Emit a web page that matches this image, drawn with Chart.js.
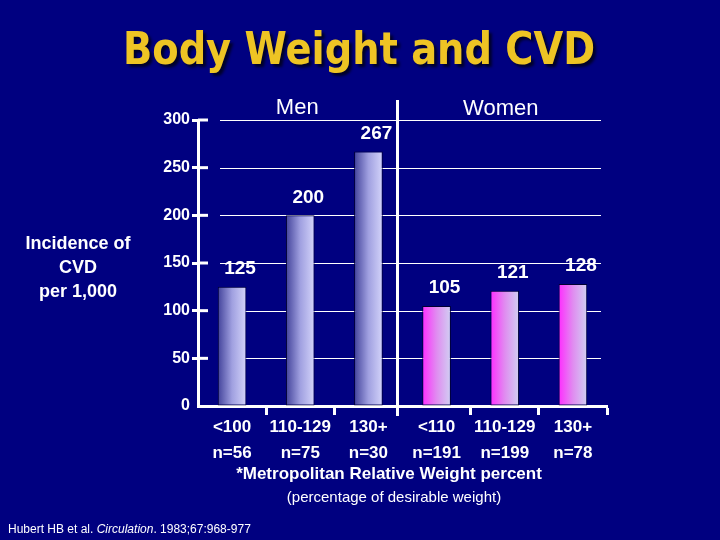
<!DOCTYPE html>
<html>
<head>
<meta charset="utf-8">
<title>Body Weight and CVD</title>
<script src="https://cdn.jsdelivr.net/npm/chart.js@4.4.1/dist/chart.umd.min.js"></script>
<style>
    body { margin: 0; background: #000080; }
    #wrap { width: 720px; height: 540px; }
</style>
</head>
<body>
<div id="wrap"><canvas id="chart" width="720" height="540"></canvas></div>
<script>
// Data
const weightGroups = ['<100', '110-129', '130+', '<110', '110-129', '130+'];
const groupSizes = ['n=56', 'n=75', 'n=30', 'n=191', 'n=199', 'n=78'];
const sexes = ['Men', 'Men', 'Men', 'Women', 'Women', 'Women'];
const incidence = [125, 200, 267, 105, 121, 128];
const yTicks = [0, 50, 100, 150, 200, 250, 300];

const slideTitle = 'Body Weight and CVD';
const yTitleLines = ['Incidence of', 'CVD', 'per 1,000'];
const xTitle = '*Metropolitan Relative Weight percent';
const xSubtitle = '(percentage of desirable weight)';
const citation = ['Hubert HB et al. ', 'Circulation', '. 1983;67:968-977'];

const BAR_PCT = 0.42;
const FONT = '"Liberation Sans", Arial, sans-serif';

Chart.defaults.font.family = FONT;
Chart.defaults.color = '#ffffff';

// index of the first women's group, where the divider sits
const splitIndex = sexes.indexOf('Women');

/**
 * Horizontal gradient per bar: navy->lavender for men, magenta->lavender for women
 */
function barFill(context) {
    const chart = context.chart;
    const x = chart.scales.x;
    if (!chart.chartArea || !x) return '#9090d0';
    const i = context.dataIndex;
    const half = x.width / weightGroups.length * BAR_PCT / 2;
    const cx = x.getPixelForValue(i);
    const g = chart.ctx.createLinearGradient(cx - half, 0, cx + half, 0);
    if (sexes[i] === 'Men') {
        g.addColorStop(0, '#42429a');
        g.addColorStop(0.5, '#a0a0e0');
        g.addColorStop(1, '#d4d4fa');
    } else {
        g.addColorStop(0, '#ff2cff');
        g.addColorStop(0.5, '#e08cf0');
        g.addColorStop(1, '#d0d0f2');
    }
    return g;
}

const slideDecor = {
    id: 'slideDecor',
    beforeDatasetsDraw(chart) {
        const { ctx, chartArea: a, scales: { x, y } } = chart;
        ctx.save();
        ctx.strokeStyle = '#ffffff';

        // thin grid lines, starting a bit right of the axis
        ctx.lineWidth = 1;
        yTicks.forEach(v => {
            if (v === 0) return;
            const py = Math.round(y.getPixelForValue(v)) + 0.5;
            ctx.beginPath();
            ctx.moveTo(a.left + 22, py);
            ctx.lineTo(a.right - 6, py);
            ctx.stroke();
        });

        // tick stubs on the inner side of the axis
        ctx.lineWidth = 3;
        yTicks.forEach(v => {
            if (v === 0) return;
            const py = y.getPixelForValue(v);
            ctx.beginPath();
            ctx.moveTo(a.left, py);
            ctx.lineTo(a.left + 10, py);
            ctx.stroke();
        });

        // divider between men and women
        const dx = (x.getPixelForValue(splitIndex - 1) + x.getPixelForValue(splitIndex)) / 2 - 5;
        ctx.beginPath();
        ctx.moveTo(dx, a.top - 20);
        ctx.lineTo(dx, a.bottom + 10);
        ctx.stroke();
        ctx.restore();
    },
    afterDatasetsDraw(chart) {
        const ctx = chart.ctx;
        const meta = chart.getDatasetMeta(0);
        ctx.save();
        ctx.fillStyle = '#ffffff';
        ctx.font = 'bold 19px ' + FONT;
        ctx.textAlign = 'center';
        ctx.textBaseline = 'middle';
        meta.data.forEach((bar, i) => {
            ctx.fillText(String(incidence[i]), bar.x + 8, bar.y - 18);
        });
        ctx.restore();
    },
    afterDraw(chart) {
        const { ctx, scales: { x } } = chart;
        ctx.save();

        // slide title
        ctx.font = 'bold 45px "DejaVu Sans", sans-serif';
        ctx.textAlign = 'center';
        ctx.textBaseline = 'alphabetic';
        ctx.shadowColor = 'rgba(0, 0, 0, 0.7)';
        ctx.shadowOffsetX = 3;
        ctx.shadowOffsetY = 3;
        ctx.shadowBlur = 3;
        ctx.fillStyle = '#eec424';
        ctx.fillText(slideTitle, 359, 64, 472);
        ctx.shadowColor = 'transparent';

        ctx.fillStyle = '#ffffff';
        ctx.textBaseline = 'middle';

        // panel headings
        ctx.font = '22px ' + FONT;
        ctx.fillText('Men', x.getPixelForValue(1) - 3, 108);
        ctx.fillText('Women', x.getPixelForValue(splitIndex + 1) - 4, 109);

        // y axis title
        ctx.font = 'bold 18px ' + FONT;
        yTitleLines.forEach((line, i) => ctx.fillText(line, 78, 244 + i * 24));

        // x axis titles
        ctx.font = 'bold 17px ' + FONT;
        ctx.fillText(xTitle, 389, 474);
        ctx.font = '15px ' + FONT;
        ctx.fillText(xSubtitle, 394, 498);

        // citation
        ctx.textAlign = 'left';
        ctx.textBaseline = 'alphabetic';
        let cx = 8;
        citation.forEach((part, i) => {
            ctx.font = (i === 1 ? 'italic ' : '') + '12px ' + FONT;
            ctx.fillText(part, cx, 533);
            cx += ctx.measureText(part).width;
        });
        ctx.restore();
    }
};

new Chart(document.getElementById('chart'), {
    type: 'bar',
    data: {
        labels: weightGroups.map((g, i) => [g, groupSizes[i]]),
        datasets: [{
            data: incidence,
            backgroundColor: barFill,
            borderColor: '#000033',
            borderWidth: 1,
            borderSkipped: false,
            barPercentage: BAR_PCT,
            categoryPercentage: 1
        }]
    },
    options: {
        responsive: false,
        animation: false,
        layout: { padding: { top: 120, right: 113, left: 0, bottom: 0 } },
        plugins: {
            legend: { display: false },
            title: { display: false },
            tooltip: { enabled: false }
        },
        scales: {
            x: {
                afterFit(scale) { scale.height = 134; },
                border: { color: '#ffffff', width: 3 },
                grid: {
                    drawOnChartArea: false,
                    drawTicks: true,
                    tickLength: 9,
                    tickWidth: 3,
                    // no tick at the y axis or under the divider
                    tickColor: ctx => (ctx.index === 0 || ctx.index === splitIndex ? 'rgba(0,0,0,0)' : '#ffffff')
                },
                ticks: {
                    color: '#ffffff',
                    font: { size: 17, weight: 'bold', lineHeight: 1.5 },
                    padding: 0,
                    maxRotation: 0,
                    autoSkip: false
                }
            },
            y: {
                min: 0,
                max: 300,
                afterFit(scale) { scale.width = 198; },
                afterBuildTicks(scale) { scale.ticks = yTicks.map(v => ({ value: v })); },
                border: { color: '#ffffff', width: 3 },
                grid: {
                    drawOnChartArea: false,
                    drawTicks: true,
                    tickLength: 6,
                    tickWidth: 3,
                    tickColor: ctx => (ctx.tick && ctx.tick.value === 0 ? 'rgba(0,0,0,0)' : '#ffffff')
                },
                ticks: {
                    color: '#ffffff',
                    font: { size: 16, weight: 'bold' },
                    padding: 2
                }
            }
        }
    },
    plugins: [slideDecor]
});
</script>
</body>
</html>
